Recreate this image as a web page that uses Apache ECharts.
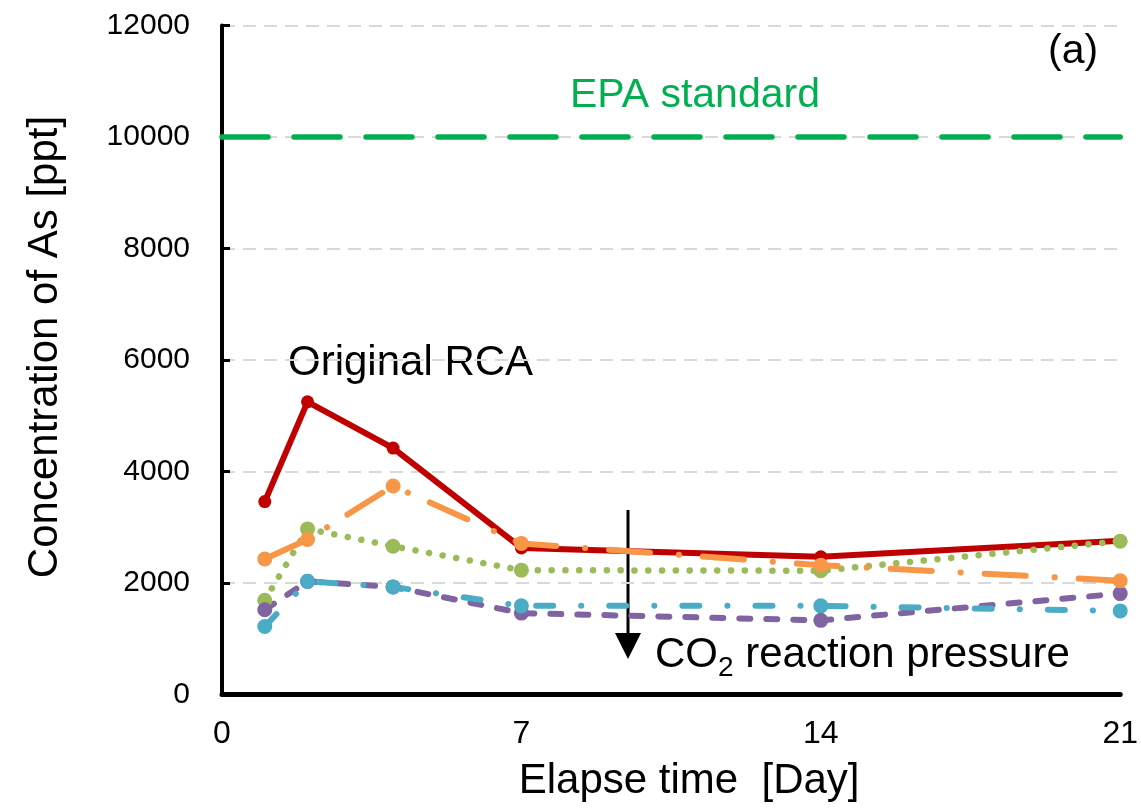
<!DOCTYPE html>
<html>
<head>
<meta charset="utf-8">
<script src="https://cdn.jsdelivr.net/npm/echarts@6/dist/echarts.min.js"></script>
<style>
html,body{margin:0;padding:0;background:#fff;}
#chart{width:1141px;height:811px;}
</style>
</head>
<body>
<div id="chart"></div>
<script>
// ---- data ----
const days = [1, 2, 4, 7, 14, 21];
const xTicks = [0, 7, 14, 21];
const yTicks = [0, 2000, 4000, 6000, 8000, 10000, 12000];
const epaStandard = 10000;
const originalRCA = [3460, 5250, 4420, 2630, 2470, 2760];
const co2Orange = [2430, 2780, 3740, 2710, 2320, 2040];
const co2Green = [1690, 2970, 2660, 2230, 2220, 2750];
const co2Purple = [1520, 2030, 1930, 1460, 1330, 1810];
const co2Cyan = [1220, 2030, 1930, 1590, 1590, 1500];

const FONT = "'Liberation Sans', Arial, sans-serif";
const pair = arr => days.map((d, i) => [d, arr[i]]);

function lineSeries(name, values, color, type, width, size) {
  return {
    name: name, type: 'line', data: pair(values),
    symbol: 'circle', symbolSize: size,
    itemStyle: { color: color },
    lineStyle: { color: color, width: width, type: type, cap: 'round', join: 'round' },
    emphasis: { disabled: true }
  };
}

const chart = echarts.init(document.getElementById('chart'));
chart.setOption({
  animation: false,
  backgroundColor: '#fff',
  textStyle: { fontFamily: FONT },
  grid: { left: 222, right: 19, top: 25.5, bottom: 116.5 },
  xAxis: {
    type: 'value', min: xTicks[0], max: xTicks[xTicks.length - 1], interval: 7,
    name: 'Elapse time  [Day]', nameLocation: 'middle', nameGap: 66,
    nameTextStyle: { fontSize: 42, color: '#000', fontFamily: FONT, padding: [0, 0, 0, 36] },
    axisLine: { show: true, lineStyle: { color: '#000', width: 5 } },
    axisTick: { show: false },
    splitLine: { show: false },
    axisLabel: { fontSize: 32, color: '#000', margin: 24, fontFamily: FONT }
  },
  yAxis: {
    type: 'value', min: yTicks[0], max: yTicks[yTicks.length - 1], interval: 2000,
    name: 'Concentration of As [ppt]', nameLocation: 'middle', nameGap: 156,
    nameTextStyle: { fontSize: 42, color: '#000', fontFamily: FONT, padding: [0, 0, 0, 26] },
    axisLine: { show: true, lineStyle: { color: '#000', width: 4 } },
    axisTick: { show: true, inside: true, length: 8, lineStyle: { color: '#000', width: 3 } },
    splitLine: { show: true, lineStyle: { color: '#d9d9d9', width: 2, type: [13, 8] } },
    axisLabel: { fontSize: 30, color: '#000', margin: 32, fontFamily: FONT, formatter: v => String(v) }
  },
  series: [
    {
      name: 'EPA standard', type: 'line', data: [[xTicks[0], epaStandard], [xTicks[xTicks.length - 1], epaStandard]],
      showSymbol: false, symbol: 'none',
      lineStyle: { color: '#00B050', width: 5.5, type: [46, 26], cap: 'round' },
      emphasis: { disabled: true }
    },
    lineSeries('Original RCA', originalRCA, '#C00000', 'solid', 6, 13),
    lineSeries('CO2 pressure 2', co2Green, '#9BBB59', [0.1, 13.7], 6.5, 15),
    lineSeries('CO2 pressure 4', co2Purple, '#8064A2', [11, 16], 6, 15),
    lineSeries('CO2 pressure 3', co2Cyan, '#4BACC6', [17, 28, 0.1, 28], 6, 15),
    lineSeries('CO2 pressure 1', co2Orange, '#F79646', [41, 29, 0.1, 24], 6, 15)
  ],
  graphic: [
    { type: 'text', left: 1048, top: 31, style: { text: '(a)', font: '41px ' + FONT, fill: '#000' } },
    { type: 'text', left: 570, top: 75, style: { text: 'EPA standard', font: '41px ' + FONT, fill: '#00B050' } },
    { type: 'text', left: 288, top: 342, style: { text: 'Original RCA', font: '42px ' + FONT, fill: '#000' } },
    { type: 'line', shape: { x1: 628, y1: 510, x2: 628, y2: 640 }, style: { stroke: '#000', lineWidth: 3 } },
    { type: 'polygon', shape: { points: [[615, 633], [641, 633], [628, 659]] }, style: { fill: '#000' } },
    {
      type: 'text', left: 655, top: 632,
      style: {
        text: '{n|CO}{s|2}{n| reaction pressure}',
        rich: {
          n: { fontSize: 42, fontFamily: FONT, fill: '#000', color: '#000', lineHeight: 48, verticalAlign: 'top' },
          s: { fontSize: 28, fontFamily: FONT, fill: '#000', color: '#000', lineHeight: 48, verticalAlign: 'bottom', padding: [22, 0, 0, 0] }
        }
      }
    }
  ]
});
</script>
</body>
</html>
